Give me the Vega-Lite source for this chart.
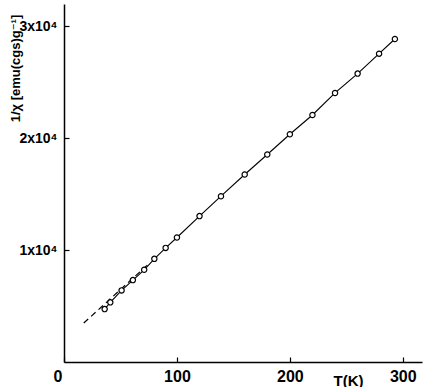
{
  "$schema": "https://vega.github.io/schema/vega-lite/v6.json",
  "width": 358,
  "height": 358,
  "autosize": {"type": "none"},
  "padding": {"left": 64, "top": 4, "right": 4, "bottom": 25},
  "background": "white",
  "config": {
    "view": {"stroke": null},
    "font": "Liberation Sans",
    "axis": {
      "grid": false,
      "domainColor": "black",
      "domainWidth": 1.5,
      "tickColor": "black",
      "tickWidth": 1.2,
      "tickSize": -5,
      "labelFontWeight": "bold",
      "labelColor": "black",
      "titleFontWeight": "bold",
      "titleColor": "black"
    }
  },
  "datasets": {
    "pts": [
      {"T": 36, "inv": 4730},
      {"T": 41, "inv": 5330},
      {"T": 51, "inv": 6400},
      {"T": 61, "inv": 7320},
      {"T": 71, "inv": 8240},
      {"T": 80, "inv": 9220},
      {"T": 90, "inv": 10200},
      {"T": 100, "inv": 11130},
      {"T": 120, "inv": 13040},
      {"T": 139, "inv": 14820},
      {"T": 160, "inv": 16760},
      {"T": 180, "inv": 18550},
      {"T": 200, "inv": 20360},
      {"T": 220, "inv": 22080},
      {"T": 240, "inv": 24050},
      {"T": 260, "inv": 25780},
      {"T": 279, "inv": 27560},
      {"T": 293, "inv": 28870}
    ],
    "fit": [
      {"T": 17.5, "inv": 3480},
      {"T": 75, "inv": 8780}
    ]
  },
  "layer": [
    {
      "data": {"name": "fit"},
      "mark": {"type": "line", "color": "black", "strokeWidth": 1.2, "strokeDash": [6, 4]},
      "encoding": {
        "x": {"field": "T", "type": "quantitative", "scale": {"domain": [0, 317], "nice": false},
          "axis": {"values": [0, 100, 200, 300], "title": "T(K)", "labelPadding": 11,
            "labelFont": "Liberation Sans Narrow, Liberation Sans", "labelFontSize": 16,
            "labelOffset": {"condition": {"test": "datum.value == 0", "value": -11}, "value": 0},
            "titleFont": "Liberation Sans Narrow, Liberation Sans", "titleFontSize": 15,
            "titleX": 284, "titleY": 11, "titleBaseline": "top"}},
        "y": {"field": "inv", "type": "quantitative", "scale": {"domain": [0, 32000], "nice": false},
          "axis": {"values": [10000, 20000, 30000], "labelExpr": "format(datum.value/10000, 'd') + 'x10⁴'",
            "labelFont": "Liberation Sans, DejaVu Sans", "labelFontSize": 14, "labelFontWeight": "bold",
            "labelPadding": 12, "title": "1/χ [emu(cgs)g⁻¹]", "titleAngle": -90, "titleX": -49, "titleY": 64,
            "titleFont": "Liberation Sans, DejaVu Sans", "titleFontSize": 13,
            "titleAlign": "center", "titleBaseline": "middle"}}
      }
    },
    {
      "data": {"name": "pts"},
      "mark": {"type": "line", "color": "black", "strokeWidth": 1.1},
      "encoding": {
        "x": {"field": "T", "type": "quantitative"},
        "y": {"field": "inv", "type": "quantitative"}
      }
    },
    {
      "data": {"name": "pts"},
      "mark": {"type": "point", "shape": "circle", "filled": true, "fill": "white", "stroke": "black", "strokeWidth": 1.2, "size": 28, "opacity": 1},
      "encoding": {
        "x": {"field": "T", "type": "quantitative"},
        "y": {"field": "inv", "type": "quantitative"}
      }
    }
  ]
}
